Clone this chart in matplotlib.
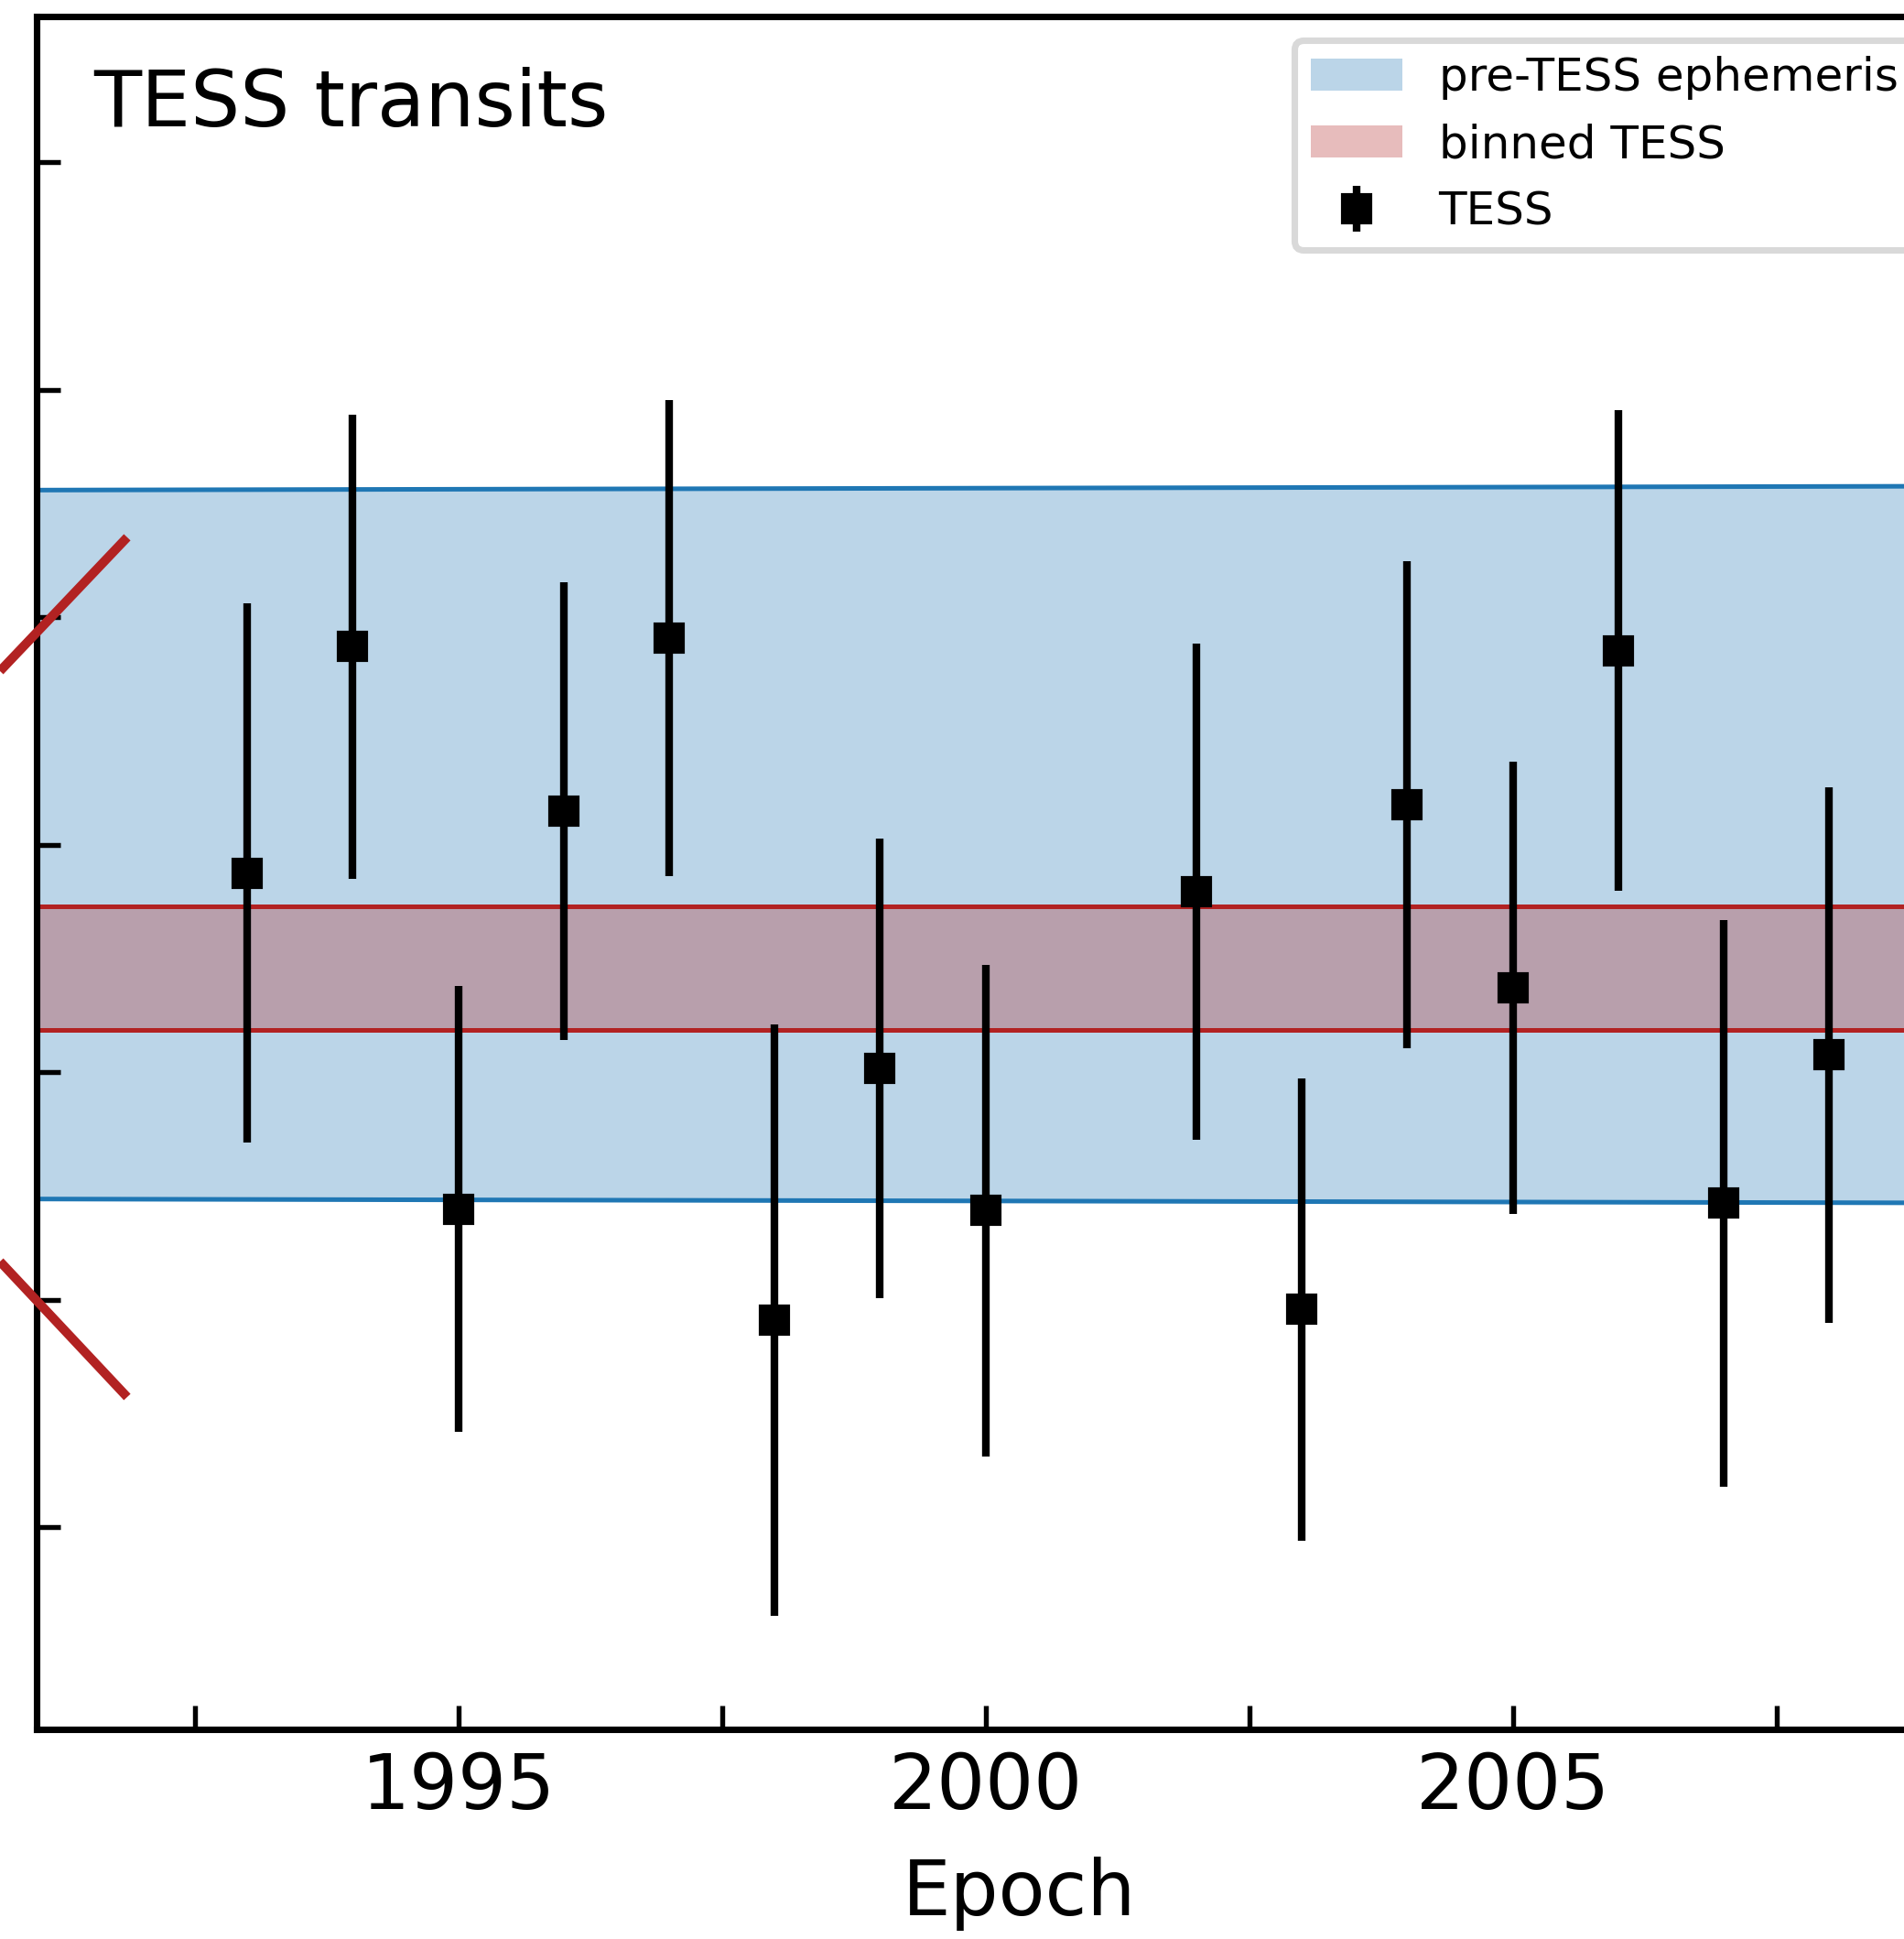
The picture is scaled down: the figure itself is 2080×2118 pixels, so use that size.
import matplotlib
matplotlib.use('Agg')
import matplotlib.pyplot as plt
from matplotlib.lines import Line2D
from matplotlib.ticker import MultipleLocator

# TESS transit timing residuals (arbitrary O-C units)
epochs = [1993, 1994, 1995, 1996, 1997, 1998, 1999, 2000, 2002, 2003, 2004, 2005, 2006, 2007, 2008]
oc = [-0.125, 0.870, -1.603, 0.147, 0.908, -2.092, -0.984, -1.609, -0.207, -2.043, 0.174, -0.630, 0.853, -1.576, -0.924]
oc_err = [1.185, 1.02, 0.98, 1.005, 1.046, 1.30, 1.01, 1.08, 1.09, 1.016, 1.07, 0.995, 1.057, 1.245, 1.177]

# pre-TESS ephemeris uncertainty envelope
eph_epochs = [1991, 2010]
eph_upper = [1.558, 1.576]
eph_lower = [-1.558, -1.576]

# binned TESS timing
bin_upper = -0.272
bin_lower = -0.815

fig = plt.figure(figsize=(2080/300, 2118/300), dpi=300)
ax = fig.add_axes([0.01909, 0.10826, 1.03293, 0.88338])

ax.fill_between(eph_epochs, eph_lower, eph_upper, color='tab:blue', alpha=0.3,
                lw=0, label='pre-TESS ephemeris')
ax.plot(eph_epochs, eph_upper, color='tab:blue', lw=1.2)
ax.plot(eph_epochs, eph_lower, color='tab:blue', lw=1.2)

ax.fill_between(eph_epochs, [bin_lower]*2, [bin_upper]*2, color='firebrick', alpha=0.3,
                lw=0, label='binned TESS')
ax.axhline(bin_upper, color='firebrick', lw=1.2)
ax.axhline(bin_lower, color='firebrick', lw=1.2)

ax.errorbar(epochs, oc, yerr=oc_err, fmt='s', color='k', ms=7, mew=1,
            elinewidth=2, capsize=0, label='TESS', zorder=5)

ax.set_xlim(1991, 2009.65)
ax.set_ylim(-3.888, 3.641)
ax.xaxis.set_major_locator(MultipleLocator(5))
ax.xaxis.set_minor_locator(MultipleLocator(2.5))
ax.yaxis.set_major_locator(MultipleLocator(1))
ax.tick_params(axis='both', which='both', direction='in', length=6.3, width=1.3,
               labelsize=20, pad=5.5)
ax.tick_params(axis='y', labelleft=False)
for s in ax.spines.values():
    s.set_linewidth(1.7)

ax.set_xlabel('Epoch', fontsize=20, labelpad=8.5)
ax.text(0.0289, 0.9355, 'TESS transits', transform=ax.transAxes, fontsize=20.5,
        va='baseline', ha='left')

handles, labels = ax.get_legend_handles_labels()
leg = ax.legend(handles, labels, loc='upper left', bbox_to_anchor=(0.6397, 0.9861),
                borderaxespad=0, fontsize=12, framealpha=1, labelspacing=0.5,
                borderpad=0.35)
leg.get_frame().set_linewidth(1.7)
leg.get_frame().set_edgecolor('0.85')

# connector lines from the zoom box on the main panel
fig.add_artist(Line2D([0.0, 0.0668], [0.6539, 0.7229], transform=fig.transFigure,
                      color='firebrick', lw=2.4, solid_capstyle='butt'))
fig.add_artist(Line2D([0.0, 0.0668], [0.3494, 0.2795], transform=fig.transFigure,
                      color='firebrick', lw=2.4, solid_capstyle='butt'))

fig.savefig('out.png', dpi=300)
